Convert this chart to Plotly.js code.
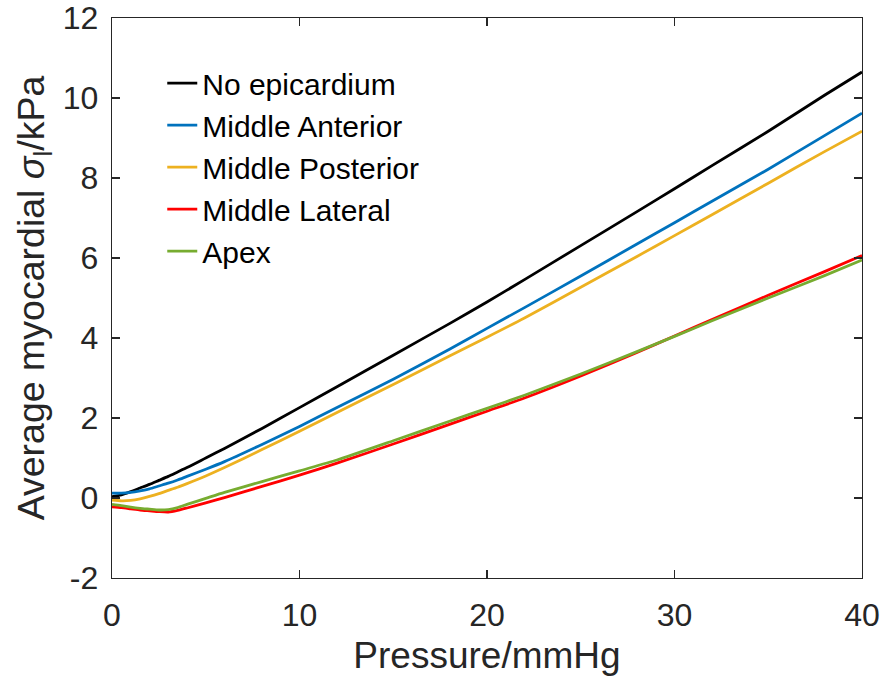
<!DOCTYPE html>
<html>
<head>
<meta charset="utf-8">
<script src="https://cdn.plot.ly/plotly-3.0.1.min.js"></script>
<style>html,body{margin:0;padding:0;background:#fff;}#chart{width:886px;height:684px;}</style>
</head>
<body>
<div id="chart"></div>
<script>
const pressure = [0,0.5,1,1.5,2,2.5,3,3.5,4,5,6,8,10,12,15,18,20,22,25,28,30,32,35,38,40];
const noEpicardium = [0.03,0.08,0.16,0.25,0.34,0.44,0.54,0.65,0.76,1.0,1.24,1.74,2.26,2.78,3.57,4.36,4.9,5.46,6.31,7.16,7.73,8.31,9.17,10.07,10.65];
const middleAnterior = [0.12,0.12,0.14,0.18,0.23,0.3,0.37,0.45,0.54,0.72,0.91,1.34,1.79,2.26,2.97,3.72,4.24,4.76,5.55,6.35,6.88,7.42,8.22,9.06,9.62];
const middlePosterior = [-0.05,-0.07,-0.06,-0.02,0.04,0.11,0.19,0.27,0.36,0.55,0.76,1.21,1.67,2.14,2.84,3.55,4.02,4.5,5.27,6.04,6.56,7.08,7.87,8.66,9.17];
const middleLateral = [-0.22,-0.24,-0.27,-0.3,-0.32,-0.34,-0.35,-0.31,-0.25,-0.12,0.01,0.29,0.57,0.87,1.35,1.84,2.17,2.5,3.05,3.64,4.05,4.46,5.07,5.66,6.06];
const apex = [-0.16,-0.19,-0.23,-0.26,-0.28,-0.3,-0.29,-0.24,-0.16,-0.01,0.14,0.41,0.68,0.95,1.43,1.92,2.24,2.57,3.1,3.66,4.04,4.43,5.0,5.56,5.95];

const seriesNames = ["No epicardium","Middle Anterior","Middle Posterior","Middle Lateral","Apex"];
const seriesValues = [noEpicardium, middleAnterior, middlePosterior, middleLateral, apex];
const seriesColors = ["#000000","#0072BD","#EDB120","#FF0000","#77AC30"];

const xTicks = [0,10,20,30,40];
const yTicks = [-2,0,2,4,6,8,10,12];

const traces = seriesNames.map((n,i)=>({
  x: pressure, y: seriesValues[i], name: n, type:'scatter', mode:'lines',
  line:{color: seriesColors[i], width: 2.8, shape:'spline', smoothing:0.6}
}));

const axisCommon = {
  showgrid:false, zeroline:false, showline:true, mirror:'ticks',
  linecolor:'#262626', linewidth:1.3, ticks:'inside', ticklen:8, tickwidth:1.3, tickcolor:'#262626',
  tickfont:{family:'Liberation Sans, Arial, sans-serif', size:32, color:'#262626'}
};

const layout = {
  width:886, height:684,
  margin:{l:112, r:24, t:18, b:106},
  paper_bgcolor:'#fff', plot_bgcolor:'#fff',
  font:{family:'Liberation Sans, Arial, sans-serif', color:'#262626'},
  xaxis: Object.assign({}, axisCommon, {
    range:[0,40], tickvals:xTicks, ticktext:xTicks.map(String), ticklabelstandoff:8,
    title:{text:'Pressure/mmHg', font:{size:37, color:'#262626'}, standoff:10}
  }),
  yaxis: Object.assign({}, axisCommon, {
    range:[-2,12], tickvals:yTicks, ticktext:yTicks.map(String), ticklabelstandoff:6,
    title:{text:'Average myocardial <i>σ</i><sub>l</sub>/kPa', font:{size:37.5, color:'#262626'}, standoff:6}
  }),
  showlegend:true,
  legend:{x:0.067, y:0.93, xanchor:'left', yanchor:'top', bgcolor:'rgba(0,0,0,0)',
    font:{family:'Liberation Sans, Arial, sans-serif', size:30, color:'#000'}, traceorder:'normal'}
};

Plotly.newPlot('chart', traces, layout, {displayModeBar:false, staticPlot:true});
</script>
</body>
</html>
